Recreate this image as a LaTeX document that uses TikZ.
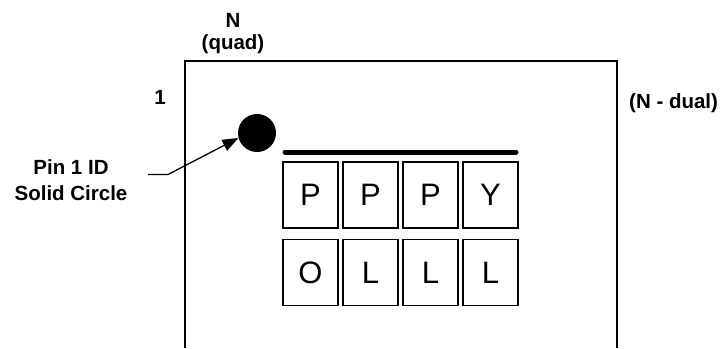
\documentclass[tikz,border=0pt]{standalone}
\usepackage{fontspec}
\setmainfont{Liberation Sans}
\usetikzlibrary{arrows.meta}
\begin{document}
\begin{tikzpicture}[x=1pt,y=-1pt,
  lbl/.style={font=\fontsize{20.5}{23}\selectfont\bfseries, align=center, inner sep=0pt},
  cell/.style={draw, line width=1.8pt, minimum width=55pt, minimum height=66pt, inner sep=0pt, font=\fontsize{31}{34}\selectfont},
  outline/.style={line width=1.8pt}]
\useasboundingbox (0,0) rectangle (725,348);
% package outline (open at the bottom)
\coordinate (bl) at (185,348);
\coordinate (tl) at (185,61);
\coordinate (tr) at (617,61);
\coordinate (br) at (617,348);
\draw[outline] (bl) -- (tl) -- (tr) -- (br);
% labels
\node[lbl] (n) at (233,20) {N};
\node[lbl] (quad) at (233,44) {(quad)};
\node[lbl] (one) at (160,97) {1};
\node[lbl, anchor=west] (dual) at (629,103) {(N - dual)};
\node[lbl] (pin) at (71,167) {Pin 1 ID};
\node[lbl] (solid) at (71,193) {Solid Circle};
% pin 1 circle
\node[circle, fill=black, minimum size=38pt, inner sep=0pt] (dot) at (257,133) {};
% leader
\coordinate (l0) at (148,174.5);
\coordinate (l1) at (168,174.5);
\draw[line width=1.3pt, -{Triangle[length=16pt,width=12pt]}] (l0) -- (l1) -- (dot.195);
% bar
\coordinate (b0) at (285,152);
\coordinate (b1) at (516,152);
\draw[line width=5pt, line cap=round] (b0) -- (b1);
% marking cells
\node[cell] (c1) at (310.5,195) {P};
\node[cell] (c2) at (370.5,195) {P};
\node[cell] (c3) at (430.5,195) {P};
\node[cell] (c4) at (490.5,195) {Y};
\node[cell] (c5) at (310.5,272.5) {O};
\node[cell] (c6) at (370.5,272.5) {L};
\node[cell] (c7) at (430.5,272.5) {L};
\node[cell] (c8) at (490.5,272.5) {L};
\end{tikzpicture}
\end{document}
